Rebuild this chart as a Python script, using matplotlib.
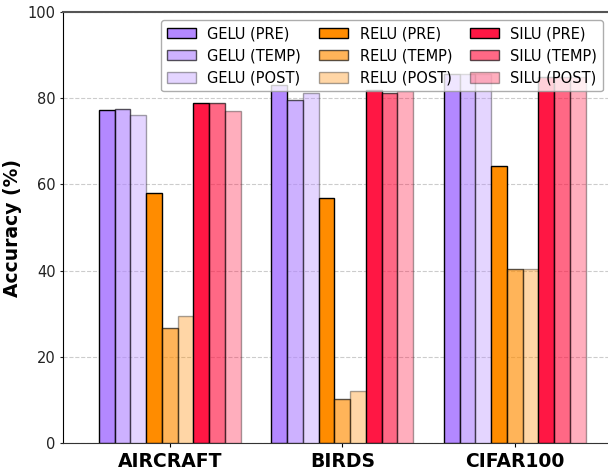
import numpy as np
import matplotlib
matplotlib.use("Agg")
import matplotlib.pyplot as plt

# --- Data ---
datasets = ["AIRCRAFT", "BIRDS", "CIFAR100"]
acts = ["GELU", "RELU", "SILU"]
stages = ["PRE", "TEMP", "POST"]

gelu_pre = [77.3, 83.1, 85.6]
gelu_temp = [77.5, 79.5, 85.6]
gelu_post = [76.0, 81.1, 85.6]
relu_pre = [58.0, 56.8, 64.3]
relu_temp = [26.8, 10.2, 40.4]
relu_post = [29.5, 12.0, 40.4]
silu_pre = [79.0, 81.9, 85.0]
silu_temp = [79.0, 81.1, 85.0]
silu_post = [77.1, 81.6, 85.0]

series = [gelu_pre, gelu_temp, gelu_post,
          relu_pre, relu_temp, relu_post,
          silu_pre, silu_temp, silu_post]

base_colors = {"GELU": "#b388ff", "RELU": "#ff8c00", "SILU": "#ff1744"}
stage_alpha = {"PRE": 1.0, "TEMP": 0.65, "POST": 0.35}

fig = plt.figure(figsize=(6.08, 4.70), dpi=100)
ax = fig.add_axes([0.104, 0.0574, 0.896, 0.9170])

x = np.arange(len(datasets))
w = 0.0913
k = 0
for act in acts:
    for st in stages:
        vals = series[k]
        ax.bar(x + (k - 4) * w, vals, w, color=base_colors[act],
               edgecolor="black", linewidth=1.0, alpha=stage_alpha[st],
               label=f"{act} ({st})", zorder=3)
        k += 1

ax.set_xlim(-0.617, 2.54)
ax.set_ylim(0, 100)
ax.set_xticks(x)
ax.set_xticklabels(datasets, fontsize=13.5, fontweight="bold")
ax.set_yticks([0, 20, 40, 60, 80, 100])
ax.tick_params(axis="y", labelsize=10.5, length=2, colors="#222222")
ax.tick_params(axis="x", length=3)
ax.set_ylabel("Accuracy (%)", fontsize=13.5, fontweight="bold")
ax.yaxis.grid(True, linestyle="--", color="#cccccc", linewidth=0.8, zorder=0)
ax.set_axisbelow(True)

ax.spines["right"].set_visible(False)
ax.spines["top"].set_color("#555555")
ax.spines["top"].set_linewidth(1.5)
ax.spines["bottom"].set_color("#333333")

ax.legend(ncol=3, fontsize=10.5, loc="upper right",
          bbox_to_anchor=(0.991, 0.981), borderaxespad=0,
          columnspacing=1.2, framealpha=0.8, edgecolor="#999999")

fig.savefig("out.png", dpi=100)
